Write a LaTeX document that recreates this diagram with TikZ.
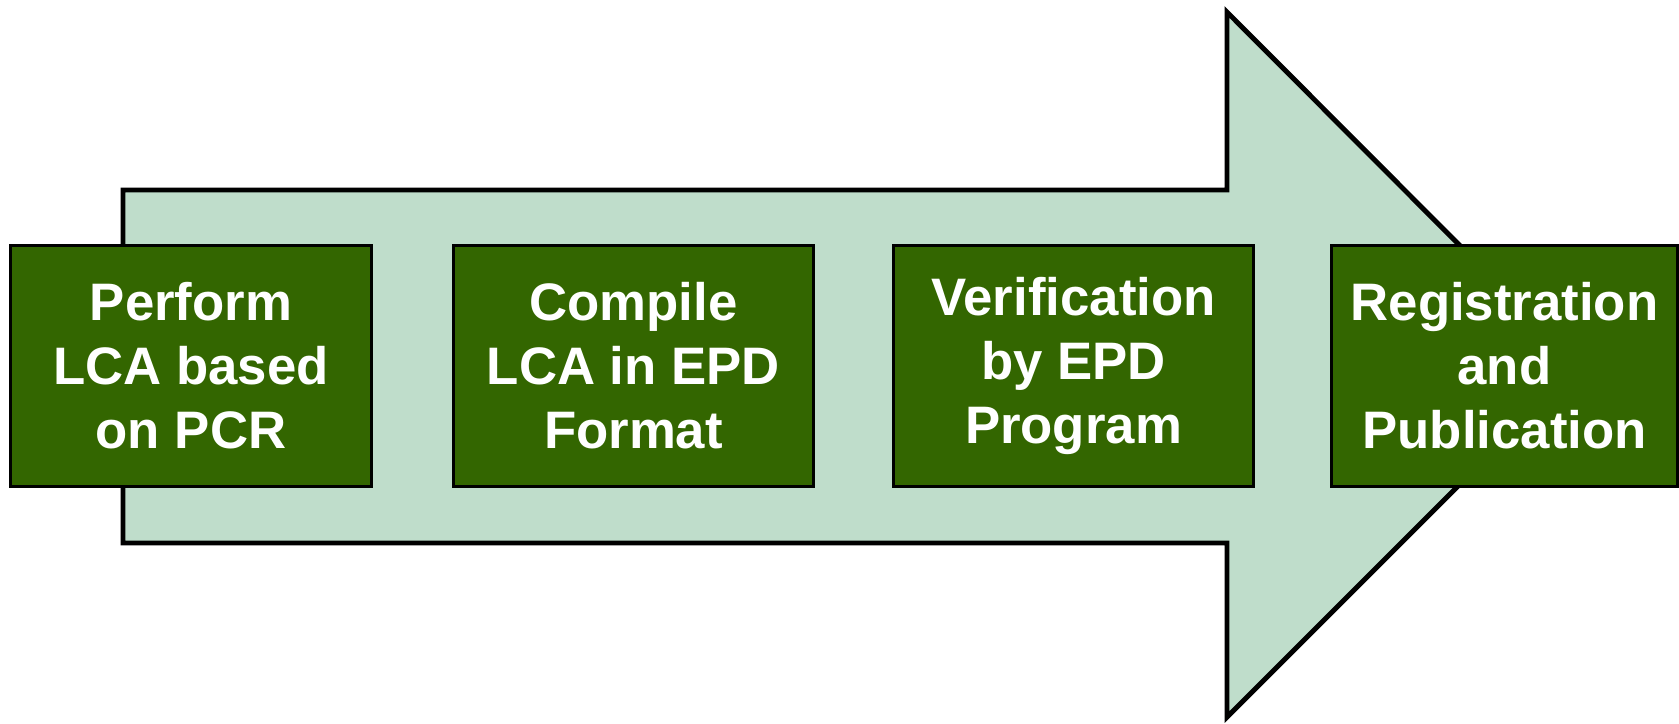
\documentclass[tikz,border=0pt]{standalone}
\usepackage{fontspec}
\setmainfont{Liberation Sans}
\definecolor{arrowfill}{RGB}{191,221,203}
\definecolor{boxgreen}{RGB}{51,102,0}
\begin{document}
\begin{tikzpicture}[x=0.01cm, y=-0.01cm,
    stepbox/.style={rectangle, draw=black, line width=0.85pt, fill=boxgreen, text=white,
        minimum width=3.6cm, minimum height=2.4cm, inner sep=0pt, align=center,
        font=\fontsize{15}{18.2}\selectfont\bfseries}]
    \useasboundingbox (0, 0) rectangle (1679, 723);

    \draw[line width=1.4pt, fill=arrowfill] (123, 190) -- (1227, 190) -- (1227, 12) -- (1579, 365)
        -- (1227, 717) -- (1227, 543) -- (123, 543) -- cycle;

    \node[stepbox] (lca) at (191, 366) {Perform\\LCA based\\on PCR};
    \node[stepbox] (compile) at (633.5, 366) {Compile\\LCA in EPD\\Format};
    \node[stepbox] (verify) at (1073.5, 366) {Verification\\by EPD\\Program};
    \node[stepbox, minimum width=3.45cm] (publish) at (1504.5, 366) {Registration\\and\\Publication};
\end{tikzpicture}
\end{document}
